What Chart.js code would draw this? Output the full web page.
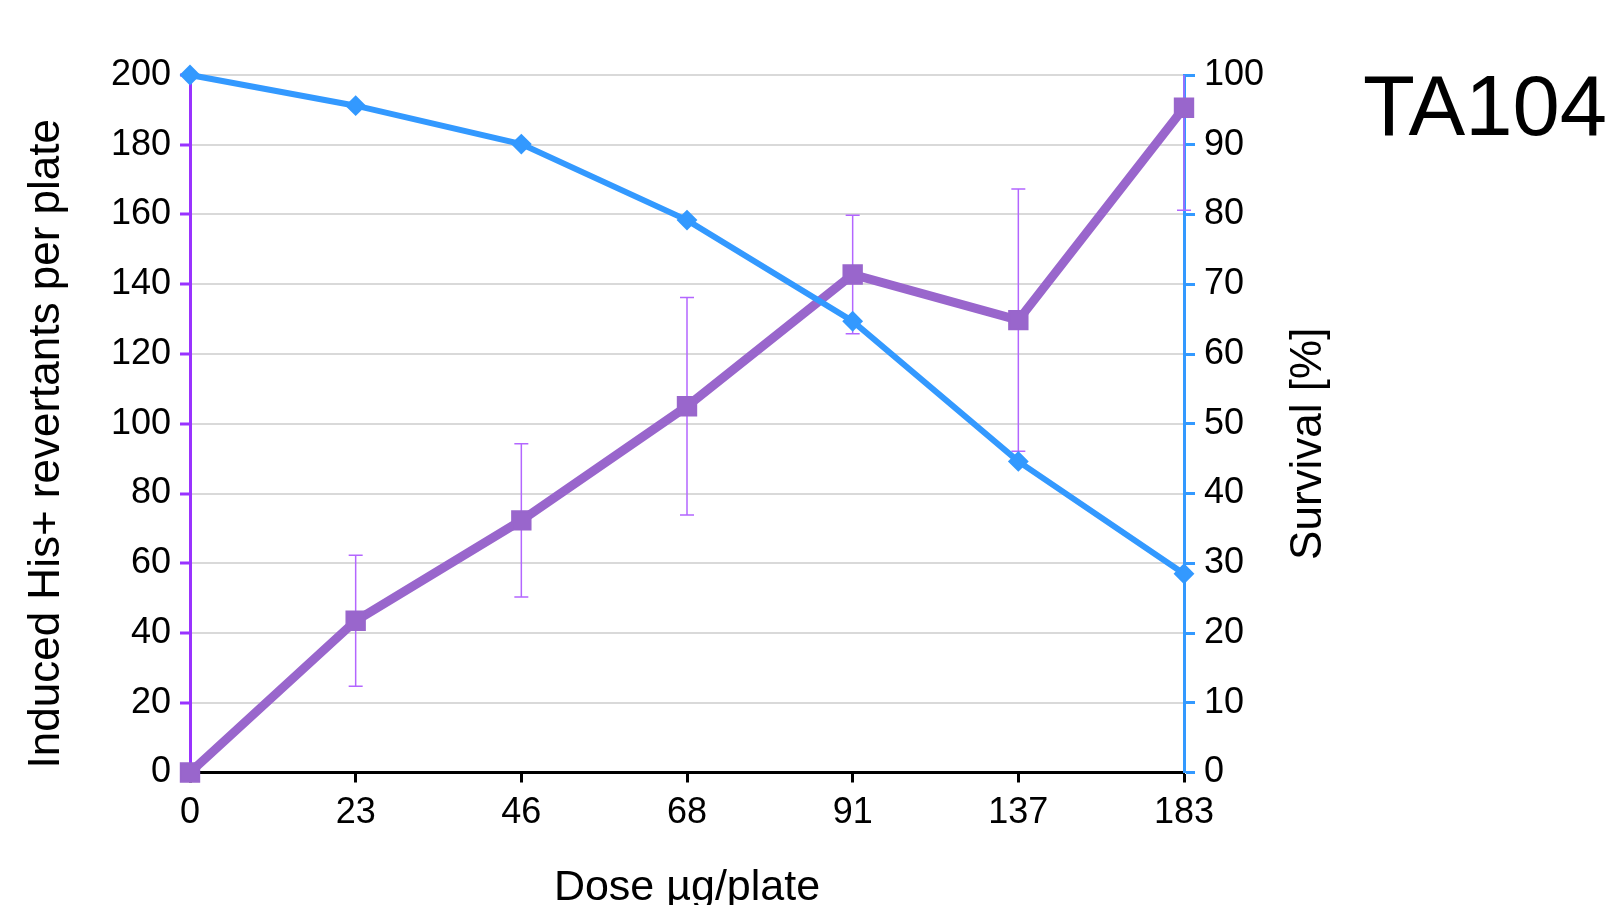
<!DOCTYPE html>
<html>
<head>
<meta charset="utf-8">
<title>TA104</title>
<script src="https://cdn.jsdelivr.net/npm/chart.js@4/dist/chart.umd.min.js"></script>
<style>
    body { margin: 0; background: #fff; }
    #box { width: 1613px; height: 905px; }
</style>
</head>
<body>
<div id="box"><canvas id="doseChart" width="1613" height="905"></canvas></div>
<script>
// dose categories (ug/plate)
var doses = ['0', '23', '46', '68', '91', '137', '183'];
// induced His+ revertants per plate, mean and +/- error
var revertants = [0, 43.5, 72.3, 105.0, 142.8, 129.7, 190.6];
var revertantsErr = [0, 18.8, 22.0, 31.2, 17.0, 37.6, 29.4];
// survival [%]
var survival = [100, 95.6, 90.1, 79.2, 64.7, 44.6, 28.5];

var purple = '#9966cc';
var violet = '#9933ff';
var errColor = '#b366ff';
var blue = '#3399ff';
var fontName = '"Liberation Sans", Arial, sans-serif';

// error bars for the revertants series
var errorBars = {
    id: 'errorBars',
    beforeDatasetsDraw: function (chart) {
        var ctx = chart.ctx;
        var x = chart.scales.x;
        var y = chart.scales.y;
        var area = chart.chartArea;
        ctx.save();
        ctx.beginPath();
        ctx.rect(area.left - 20, area.top, area.right - area.left + 40, area.bottom - area.top);
        ctx.clip();
        ctx.strokeStyle = errColor;
        ctx.lineWidth = 1.5;
        for (var i = 0; i < revertants.length; i++) {
            if (!revertantsErr[i]) continue;
            var px = x.getPixelForValue(i);
            var top = y.getPixelForValue(revertants[i] + revertantsErr[i]);
            var bot = y.getPixelForValue(revertants[i] - revertantsErr[i]);
            ctx.beginPath();
            ctx.moveTo(px, top);
            ctx.lineTo(px, bot);
            ctx.moveTo(px - 7, top);
            ctx.lineTo(px + 7, top);
            ctx.moveTo(px - 7, bot);
            ctx.lineTo(px + 7, bot);
            ctx.stroke();
        }
        ctx.restore();
    }
};

// strain label and both axis titles (both read bottom to top)
var extraText = {
    id: 'extraText',
    afterDraw: function (chart) {
        var ctx = chart.ctx;
        var area = chart.chartArea;
        var midY = (area.top + area.bottom) / 2 + 20;
        ctx.save();
        ctx.fillStyle = '#000';
        ctx.font = '85px ' + fontName;
        ctx.textAlign = 'left';
        ctx.textBaseline = 'alphabetic';
        ctx.fillText('TA104', 1363, 135);

        ctx.font = '44px ' + fontName;
        ctx.textAlign = 'center';
        ctx.textBaseline = 'middle';

        ctx.save();
        ctx.translate(47, midY);
        ctx.rotate(-Math.PI / 2);
        ctx.fillText('Induced His+ revertants per plate', 0, 0);
        ctx.restore();

        ctx.translate(1309, midY);
        ctx.rotate(-Math.PI / 2);
        ctx.fillText('Survival [%]', 0, 0);
        ctx.restore();
    }
};

var ctx = document.getElementById('doseChart');
window.doseChart = new Chart(ctx, {
    type: 'line',
    data: {
        labels: doses,
        datasets: [{
            label: 'Induced His+ revertants',
            data: revertants,
            yAxisID: 'y',
            borderColor: purple,
            backgroundColor: purple,
            borderWidth: 9,
            pointStyle: 'rect',
            pointRadius: 13,
            pointBorderWidth: 2,
            pointBorderColor: purple,
            pointBackgroundColor: purple,
            tension: 0,
            clip: false,
            order: 2
        }, {
            label: 'Survival',
            data: survival,
            yAxisID: 'y1',
            borderColor: blue,
            backgroundColor: blue,
            borderWidth: 6,
            pointStyle: 'rectRot',
            pointRadius: 9,
            pointBorderWidth: 2,
            pointBorderColor: blue,
            pointBackgroundColor: blue,
            tension: 0,
            clip: false,
            order: 1
        }]
    },
    options: {
        responsive: false,
        animation: false,
        layout: {
            padding: { top: 75, left: 0, right: 0, bottom: 0 }
        },
        plugins: {
            legend: { display: false },
            tooltip: { enabled: false }
        },
        scales: {
            x: {
                type: 'category',
                offset: false,
                afterFit: function (scale) { scale.height = 132.5; },
                grid: {
                    drawOnChartArea: false,
                    tickColor: '#000',
                    tickWidth: 3,
                    tickLength: 10
                },
                border: { color: '#000', width: 3 },
                ticks: {
                    color: '#000',
                    font: { family: fontName, size: 36 },
                    padding: 9,
                    maxRotation: 0,
                    autoSkip: false
                },
                title: {
                    display: true,
                    text: 'Dose µg/plate',
                    color: '#000',
                    font: { family: fontName, size: 43, lineHeight: 0.8 },
                    padding: 0
                }
            },
            y: {
                position: 'left',
                min: 0,
                max: 200,
                afterFit: function (scale) { scale.width = 190; },
                grid: {
                    color: '#d9d9d9',
                    lineWidth: 2,
                    tickColor: violet,
                    tickWidth: 3,
                    tickLength: 10
                },
                border: { color: violet, width: 3 },
                ticks: {
                    stepSize: 20,
                    color: '#000',
                    font: { family: fontName, size: 36 },
                    padding: 9
                }
            },
            y1: {
                position: 'right',
                min: 0,
                max: 100,
                afterFit: function (scale) { scale.width = 429; },
                grid: {
                    drawOnChartArea: false,
                    tickColor: blue,
                    tickWidth: 3,
                    tickLength: 11
                },
                border: { color: blue, width: 3 },
                ticks: {
                    stepSize: 10,
                    color: '#000',
                    font: { family: fontName, size: 36 },
                    padding: 9
                }
            }
        }
    },
    plugins: [errorBars, extraText]
});
</script>
</body>
</html>
